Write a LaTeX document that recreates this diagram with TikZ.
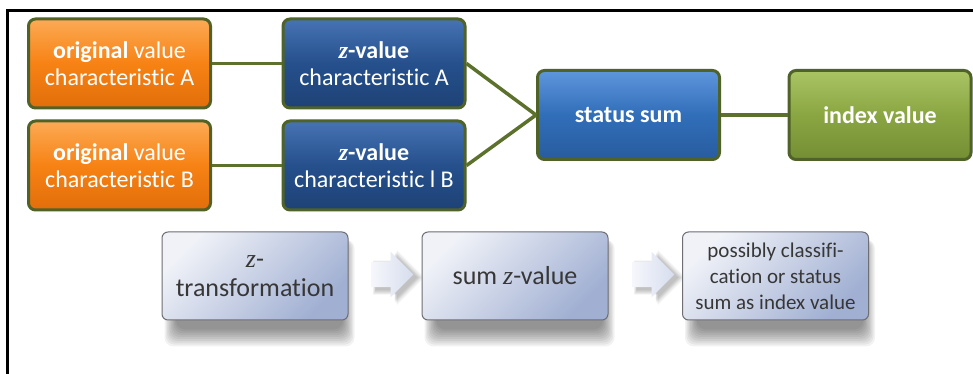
\documentclass[tikz,border=0pt]{standalone}
\usepackage{fontspec}
\setmainfont[Ligatures=NoCommon]{Carlito}
\newfontfamily\zfont{Liberation Serif}
\usetikzlibrary{shapes.arrows,backgrounds,calc}
\definecolor{orgC}{RGB}{247,130,20}
\definecolor{orgL}{RGB}{252,170,85}
\definecolor{orgD}{RGB}{225,110,10}
\definecolor{edgeG}{RGB}{79,98,40}
\definecolor{lineG}{RGB}{92,114,44}
\definecolor{zbC}{RGB}{37,80,140}
\definecolor{zbL}{RGB}{70,115,180}
\definecolor{zbD}{RGB}{30,66,118}
\definecolor{stC}{RGB}{49,110,185}
\definecolor{stL}{RGB}{95,150,220}
\definecolor{stD}{RGB}{40,92,158}
\definecolor{ixC}{RGB}{138,166,66}
\definecolor{ixL}{RGB}{170,196,100}
\definecolor{ixD}{RGB}{116,142,52}
\definecolor{pbL}{RGB}{240,242,248}
\definecolor{pbD}{RGB}{160,175,210}
\definecolor{pbEdge}{RGB}{110,110,115}
\definecolor{txtG}{RGB}{55,55,55}
\definecolor{arL}{RGB}{246,247,252}
\definecolor{arD}{RGB}{214,221,238}
\newcommand{\zit}{{\zfont\itshape z}}
\newcommand{\zbit}{{\zfont\bfseries\itshape z}}
\begin{document}
\begin{tikzpicture}[x=1pt,y=1pt,
  topbox/.style={draw=edgeG, line width=3pt, rounded corners=7pt,
    minimum width=182pt, minimum height=89pt, text=white, align=center,
    font=\fontsize{24}{27}\selectfont, inner sep=0pt},
  orangebox/.style={topbox, top color=orgL, bottom color=orgD, middle color=orgC},
  zbox/.style={topbox, top color=zbL, bottom color=zbD, middle color=zbC},
  statbox/.style={topbox, top color=stL, bottom color=stD, middle color=stC},
  idxbox/.style={topbox, top color=ixL, bottom color=ixD, middle color=ixC},
  procbox/.style={draw=pbEdge, line width=1pt, rounded corners=6pt,
    minimum width=186pt, minimum height=88pt, text=txtG, align=center,
    top color=pbL, bottom color=pbD, shading angle=45, inner sep=0pt},
  arrowshape/.style={single arrow, minimum height=42pt, inner sep=12.5pt, single arrow head extend=10pt},
  flowarrow/.style={arrowshape, draw=none, left color=arL, right color=arD},
  softshade/.style={fill=black, opacity=0.05, draw=none},
  conn/.style={draw=lineG, line width=3.5pt}
]
\useasboundingbox (0,0) rectangle (973,374);
\draw[line width=2.5pt] (7.5,0) -- (7.5,363.5) -- (973,363.5);

\node[orangebox] (oA) at (119.5,310.5) {\textbf{original} value\\characteristic A};
\node[orangebox] (oB) at (119.5,208.5) {\textbf{original} value\\characteristic B};
\node[zbox] (zA) at (374,310.5) {\textbf{\zbit-value}\\characteristic A};
\node[zbox] (zB) at (374,208.5) {\textbf{\zbit-value}\\characteristic l B};
\node[statbox] (st) at (628.5,259) {\textbf{status sum}};
\node[idxbox] (ix) at (880,259) {\textbf{index value}};

\draw[conn] (oA.east) -- (zA.west);
\draw[conn] (oB.east) -- (zB.west);
\draw[conn] (zA.east) -- (st.west);
\draw[conn] (zB.east) -- (st.west);
\draw[conn] (st.east) -- (ix.west);

\node[procbox, font=\fontsize{26}{29}\selectfont] (p1) at (255,98) {\zit-\\transformation};
\node[procbox, font=\fontsize{26}{29}\selectfont] (p2) at (515,98) {sum \zit-value};
\node[procbox, font=\fontsize{21}{26}\selectfont] (p3) at (775.5,98) {possibly classifi-\\cation or status\\sum as index value};

\node[flowarrow] (a1) at (386,99.5) {};
\node[flowarrow] (a2) at (647,99.5) {};

\begin{scope}[on background layer]
  \fill[white] (0,0) rectangle (973,374);
  \foreach \p in {p1,p2,p3}{
    \foreach \k in {0,...,9}{
      \fill[softshade, rounded corners=9pt]
        ($(\p.south west)+(3+1.3*\k,-26+1.9*\k)$) rectangle ($(\p.north east)+(6-1.3*\k,-8)$);
    }
  }
  \foreach \a in {a1,a2}{
    \foreach \k in {0,...,5}{
      \node[arrowshape, softshade, opacity=0.045, inner sep=12.5pt+0.9pt*\k, minimum height=42pt+1.5pt*\k]
        (\a s\k) at ($(\a)+(4,-3)$) {};
    }
  }
\end{scope}
\end{tikzpicture}
\end{document}
